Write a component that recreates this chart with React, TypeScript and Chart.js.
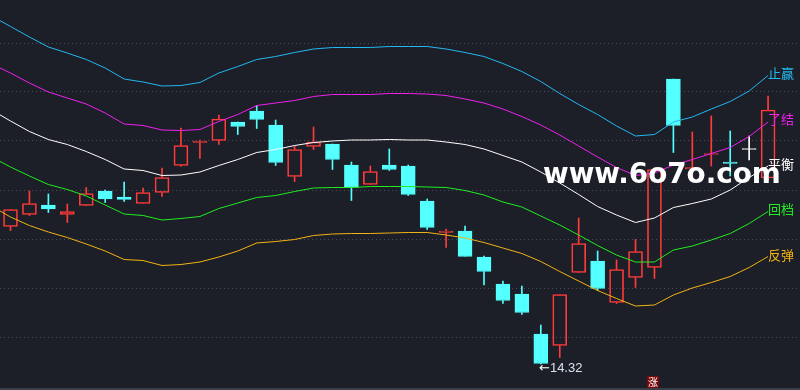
import React, { useEffect, useRef } from "react";
import { Chart, registerables } from "chart.js";

Chart.register(...registerables);

// ---- data (prices) ----
const opens = [17.07, 17.31, 17.5, 17.31, 17.49, 17.78, 17.66, 17.53, 17.75, 18.29, 18.75, 18.79, 19.16, 19.38, 19.1, 18.07, 18.67, 18.72, 18.3, 17.91, 18.3, 18.28, 17.58, 16.95, 16.98, 16.46, 15.92, 15.72, 14.92, 14.69, 16.15, 16.38, 15.55, 16.05, 16.25, 20.02, 18.22, 18.51, 18.36, 18.61, 18.04];
const highs = [17.41, 17.78, 17.72, 17.52, 17.85, 17.8, 17.96, 17.84, 18.24, 19.04, 18.8, 19.3, 19.16, 19.49, 19.2, 18.68, 19.06, 18.72, 18.36, 18.28, 18.62, 18.3, 17.62, 17.02, 17.08, 16.48, 15.98, 15.88, 15.1, 15.71, 17.24, 16.58, 16.4, 16.81, 18.21, 20.02, 18.96, 19.28, 18.98, 18.88, 19.68];
const lows = [16.99, 17.29, 17.35, 17.15, 17.49, 17.55, 17.57, 17.53, 17.67, 18.27, 18.43, 18.71, 18.91, 19.03, 18.29, 17.97, 18.61, 18.21, 17.59, 17.91, 18.19, 17.69, 17.01, 16.65, 16.47, 15.9, 15.53, 15.31, 14.32, 14.45, 16.15, 15.79, 15.53, 15.85, 16.03, 18.55, 18.0, 18.28, 18.08, 18.4, 18.0];
const closes = [17.41, 17.53, 17.42, 17.37, 17.73, 17.62, 17.61, 17.75, 18.05, 18.69, 18.78, 19.22, 19.07, 19.21, 18.35, 18.61, 18.76, 18.41, 17.85, 18.17, 18.21, 17.71, 17.05, 16.98, 16.47, 16.17, 15.59, 15.35, 14.33, 15.71, 16.73, 15.83, 16.21, 16.57, 18.21, 19.09, 18.25, 18.53, 18.33, 18.61, 19.4];

// band lines, index 0 is the (off-screen) bar before the first candle
const stopProfit = [21.28, 21.07, 20.86, 20.66, 20.54, 20.41, 20.24, 20.02, 19.96, 19.88, 19.89, 19.95, 20.14, 20.27, 20.41, 20.47, 20.55, 20.62, 20.65, 20.65, 20.65, 20.67, 20.67, 20.67, 20.62, 20.55, 20.47, 20.33, 20.17, 19.97, 19.73, 19.51, 19.31, 19.08, 18.88, 18.91, 19.16, 19.26, 19.42, 19.57, 19.78, 20.09];
const closeOut = [20.32, 20.14, 19.94, 19.76, 19.64, 19.52, 19.34, 19.12, 19.09, 19.0, 18.99, 19.01, 19.17, 19.31, 19.49, 19.54, 19.59, 19.67, 19.71, 19.71, 19.71, 19.73, 19.73, 19.72, 19.69, 19.62, 19.54, 19.42, 19.27, 19.1, 18.9, 18.68, 18.46, 18.25, 18.09, 18.14, 18.3, 18.41, 18.53, 18.65, 18.87, 19.16];
const balance = [19.4, 19.18, 18.97, 18.81, 18.71, 18.57, 18.41, 18.22, 18.19, 18.09, 18.1, 18.16, 18.29, 18.41, 18.55, 18.61, 18.69, 18.75, 18.78, 18.8, 18.8, 18.81, 18.8, 18.8, 18.76, 18.71, 18.62, 18.49, 18.36, 18.16, 17.94, 17.71, 17.47, 17.3, 17.15, 17.24, 17.45, 17.53, 17.62, 17.8, 18.05, 18.28];
const pullback = [18.46, 18.26, 18.08, 17.91, 17.81, 17.68, 17.5, 17.32, 17.29, 17.2, 17.23, 17.27, 17.43, 17.54, 17.65, 17.69, 17.77, 17.84, 17.85, 17.85, 17.87, 17.87, 17.87, 17.86, 17.85, 17.79, 17.7, 17.56, 17.46, 17.28, 17.1, 16.9, 16.69, 16.5, 16.36, 16.36, 16.6, 16.68, 16.8, 16.93, 17.13, 17.37];
const rebound = [17.48, 17.26, 17.09, 16.96, 16.85, 16.72, 16.58, 16.41, 16.39, 16.29, 16.31, 16.36, 16.46, 16.58, 16.74, 16.77, 16.81, 16.89, 16.92, 16.93, 16.93, 16.94, 16.95, 16.95, 16.9, 16.84, 16.75, 16.64, 16.53, 16.37, 16.17, 15.98, 15.79, 15.63, 15.48, 15.5, 15.7, 15.84, 15.95, 16.07, 16.25, 16.47];

const gridLevels = [14.86, 15.84, 16.82, 17.8, 18.78, 19.76, 20.74];
const lineLabels = ["止赢", "了结", "平衡", "回档", "反弹"];
const lowLabel = "14.32";

// ---- styles ----
const BG = "#1c1f27";
const RED = "#ff3b3b";
const CYAN = "#54ffff";
const WHITE = "#ffffff";
const lineColors = ["#23b9f0", "#f020f0", "#ffffff", "#20ee20", "#f2b414"];
const labelTops = [66, 112, 157, 202, 248];

function candleColor(i: number) {
  if (closes[i] === opens[i]) return WHITE;
  return closes[i] > opens[i] ? RED : CYAN;
}

export default function App() {
  const ref = useRef<HTMLCanvasElement | null>(null);

  useEffect(() => {
    document.body.style.margin = "0";
    document.body.style.background = BG;
    const canvas = ref.current;
    if (!canvas) return;

    const xs = opens.map((_, i) => i + 1);
    const colors = opens.map((_, i) => candleColor(i));
    const bodyFill = opens.map((_, i) => (closes[i] > opens[i] ? "rgba(0,0,0,0)" : candleColor(i)));

    const barCommon = {
      type: "bar" as const,
      grouped: false,
      borderSkipped: false,
      order: 5,
    };

    const lineSets = [stopProfit, closeOut, balance, pullback, rebound].map((arr, k) => ({
      type: "line" as const,
      data: arr.map((v, i) => ({ x: i, y: v })),
      borderColor: lineColors[k],
      borderWidth: 1,
      pointRadius: 0,
      tension: 0,
      fill: false,
      order: 1,
    }));

    const chart = new Chart(canvas, {
      type: "bar",
      data: {
        datasets: [
          ...lineSets,
          {
            ...barCommon,
            data: xs.map((x, i) => ({ x, y: [Math.max(opens[i], closes[i]), highs[i]] })),
            backgroundColor: colors,
            borderWidth: 0,
            barThickness: 1,
          },
          {
            ...barCommon,
            data: xs.map((x, i) => ({ x, y: [lows[i], Math.min(opens[i], closes[i])] })),
            backgroundColor: colors,
            borderWidth: 0,
            barThickness: 1,
          },
          {
            ...barCommon,
            data: xs.map((x, i) => ({ x, y: [opens[i], closes[i]] })),
            backgroundColor: bodyFill,
            borderColor: colors,
            borderWidth: 1,
            barThickness: 14,
            minBarLength: 1,
          },
        ] as any,
      },
      options: {
        animation: false,
        responsive: false,
        maintainAspectRatio: false,
        layout: { padding: 0 },
        plugins: { legend: { display: false }, tooltip: { enabled: false } },
        scales: {
          x: {
            type: "linear",
            min: 0.4456,
            max: 42.685,
            offset: false,
            display: false,
          },
          y: {
            type: "linear",
            min: 13.84,
            max: 21.6,
            display: true,
            ticks: { display: false },
            grid: { color: "#4a4f5c", drawTicks: false, lineWidth: 1 },
            border: { display: false, dash: [1, 3] },
            afterBuildTicks: (scale: any) => {
              scale.ticks = gridLevels.map((v) => ({ value: v }));
            },
          },
        },
      } as any,
    });
    return () => chart.destroy();
  }, []);

  return (
    <div
      style={{
        position: "relative",
        width: 800,
        height: 390,
        background: BG,
        overflow: "hidden",
      }}
    >
      <canvas ref={ref} width={800} height={388} style={{ display: "block", width: 800, height: 388 }} />
      <div style={{ position: "absolute", left: 0, top: 388, width: 800, height: 2, background: "#3a3e49" }} />
      {lineLabels.map((t, k) => (
        <div
          key={t}
          style={{
            position: "absolute",
            left: 768,
            top: labelTops[k],
            color: lineColors[k],
            font: '13px "Noto Sans CJK SC"',
            lineHeight: "13px",
            whiteSpace: "nowrap",
          }}
        >
          {t}
        </div>
      ))}
      <div
        style={{
          position: "absolute",
          left: 539,
          top: 361,
          font: '13px "Liberation Sans"',
          lineHeight: "13px",
          whiteSpace: "nowrap",
          color: "#d6e2f2",
        }}
      >
        <span style={{ color: "#ffffff", fontFamily: '"DejaVu Sans"' }}>←</span>
        {lowLabel}
      </div>
      <div
        style={{
          position: "absolute",
          left: 647,
          top: 376,
          width: 12,
          height: 12,
          background: "#7a0808",
          color: "#ffffff",
          font: '10px "Noto Sans CJK SC"',
          lineHeight: "12px",
          textAlign: "center",
        }}
      >
        涨
      </div>
      <div
        style={{
          position: "absolute",
          left: 543,
          top: 160,
          font: 'bold 27.8px "DejaVu Sans"',
          lineHeight: "28px",
          color: "#ffffff",
          whiteSpace: "nowrap",
        }}
      >
        www.6o7o.com
      </div>
    </div>
  );
}
